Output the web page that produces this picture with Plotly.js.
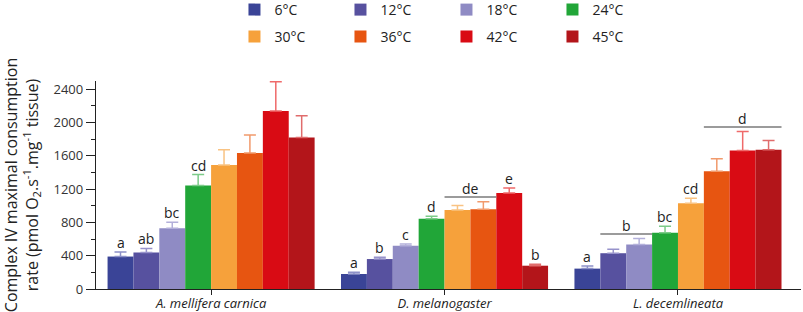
<!DOCTYPE html>
<html>
<head>
<meta charset="utf-8">
<script src="https://cdn.plot.ly/plotly-3.0.1.min.js"></script>
<style>html,body{margin:0;padding:0;background:#fff;}#chart{width:803px;height:312px;}</style>
</head>
<body>
<div id="chart"></div>
<script>
// ---- data ----
const species = ["A. mellifera carnica", "D. melanogaster", "L. decemlineata"];
const temps = ["6°C", "12°C", "18°C", "24°C", "30°C", "36°C", "42°C", "45°C"];
const barColors = ["#3a4497", "#57519f", "#8f8bc4", "#21a638", "#f6a13b", "#e75511", "#d90b14", "#b3151a"];
const errColors = ["#8c90c8", "#9793cb", "#b3b0da", "#7ccb89", "#f9c383", "#f19a6c", "#ef6a6a", "#e06c6c"];
// values per temperature, for each species [A. mellifera, D. melanogaster, L. decemlineata]
const t6 = [390, 180, 245];
const t12 = [440, 360, 430];
const t18 = [730, 520, 535];
const t24 = [1245, 845, 675];
const t30 = [1490, 950, 1030];
const t36 = [1635, 960, 1415];
const t42 = [2140, 1155, 1665];
const t45 = [1820, 280, 1675];
// upper error (SEM)
const e6 = [55, 20, 32];
const e12 = [48, 22, 48];
const e18 = [72, 22, 72];
const e24 = [130, 28, 80];
const e30 = [185, 55, 62];
const e36 = [215, 90, 150];
const e42 = [350, 60, 228];
const e45 = [262, 18, 110];
// significance letters on single bars: [species index, temperature index, letter]
const singleLetters = [
  [0, 0, "a"], [0, 1, "ab"], [0, 2, "bc"], [0, 3, "cd"],
  [1, 0, "a"], [1, 1, "b"], [1, 2, "c"], [1, 3, "d"], [1, 6, "e"], [1, 7, "b"],
  [2, 0, "a"], [2, 3, "bc"], [2, 4, "cd"]
];
// significance letters spanning bars: [species index, first temp index, last temp index, letter]
const groupLetters = [
  [0, 4, 7, "d"],
  [1, 4, 5, "de"],
  [2, 1, 2, "b"],
  [2, 5, 7, "d"]
];

const values = [t6, t12, t18, t24, t30, t36, t42, t45];
const errs = [e6, e12, e18, e24, e30, e36, e42, e45];

const FONT = "Open Sans, Noto Sans, sans-serif";
const BARGAP = 0.113;
const nT = temps.length;
const bw = (1 - BARGAP) / nT;

const traces = temps.map((t, i) => ({
  type: "bar",
  name: t,
  x: [0, 1, 2],
  y: values[i],
  marker: {color: barColors[i], line: {width: 0}},
  error_y: {type: "data", symmetric: false, array: errs[i], arrayminus: [0, 0, 0],
            color: errColors[i], thickness: 1.5, width: 6},
  legend: i < 4 ? "legend" : "legend2",
  hoverinfo: "skip"
}));

const annotations = [];
const shapes = [];
singleLetters.forEach(([s, ti, txt]) => {
  annotations.push({
    xref: "x", yref: "y", x: s + (ti - (nT - 1) / 2) * bw,
    y: values[ti][s] + errs[ti][s], yanchor: "bottom", yshift: -2,
    text: txt, showarrow: false, font: {family: FONT, size: 14, color: "#222"}
  });
});
groupLetters.forEach(([s, a, b, txt]) => {
  let top = 0;
  for (let k = a; k <= b; k++) top = Math.max(top, values[k][s] + errs[k][s]);
  const x0 = s + (a - nT / 2) * bw;
  const x1 = s + (b + 1 - nT / 2) * bw;
  const yl = top + 55;
  shapes.push({type: "line", xref: "x", yref: "y", x0: x0, x1: x1, y0: yl, y1: yl,
               line: {color: "#7a7a7a", width: 1.5}});
  annotations.push({xref: "x", yref: "y", x: (x0 + x1) / 2, y: yl, yanchor: "bottom", yshift: -3,
    text: txt, showarrow: false, font: {family: FONT, size: 14, color: "#222"}});
});

const legendBase = {
  orientation: "h", xref: "container", yref: "container", xanchor: "left", yanchor: "middle",
  x: 0.292, entrywidth: 61, entrywidthmode: "pixels",
  font: {family: FONT, size: 14, color: "#222"}, bgcolor: "rgba(0,0,0,0)",
  itemclick: false, itemdoubleclick: false
};

const layout = {
  width: 803, height: 312,
  margin: {l: 96, r: 2, t: 81, b: 23},
  paper_bgcolor: "#fff", plot_bgcolor: "#fff",
  font: {family: FONT, size: 13, color: "#222"},
  barmode: "group", bargap: BARGAP, bargroupgap: 0,
  showlegend: true,
  legend: Object.assign({}, legendBase, {y: 1 - 10 / 312}),
  legend2: Object.assign({}, legendBase, {y: 1 - 37 / 312}),
  xaxis: {
    tickmode: "array", tickvals: [0, 1, 2],
    ticktext: species.map(s => "<i>" + s + "</i>"),
    range: [-0.493, 2.527], showline: true, linecolor: "#222", linewidth: 1.2,
    ticks: "outside", ticklen: 5, tickcolor: "#222", showgrid: false, zeroline: false,
    ticklabelstandoff: -3,
    tickfont: {family: FONT, size: 13, color: "#222"}
  },
  yaxis: {
    range: [0, 2500], tickmode: "linear", tick0: 0, dtick: 400,
    showline: true, linecolor: "#222", linewidth: 1.2, ticks: "outside", ticklen: 9,
    tickcolor: "#222", showgrid: false, zeroline: false,
    minor: {dtick: 200, ticks: "outside", ticklen: 4, tickcolor: "#222", showgrid: false},
    tickfont: {family: FONT, size: 13, color: "#333"},
    title: {text: "Complex IV maximal consumption<br>rate (pmol O<sub>2</sub>.s<sup>-1</sup>.mg<sup>-1</sup> tissue)",
            font: {family: FONT, size: 16, color: "#222"}, standoff: 12}
  },
  annotations: annotations,
  shapes: shapes
};

Plotly.newPlot("chart", traces, layout, {displayModeBar: false, staticPlot: true});
</script>
</body>
</html>
